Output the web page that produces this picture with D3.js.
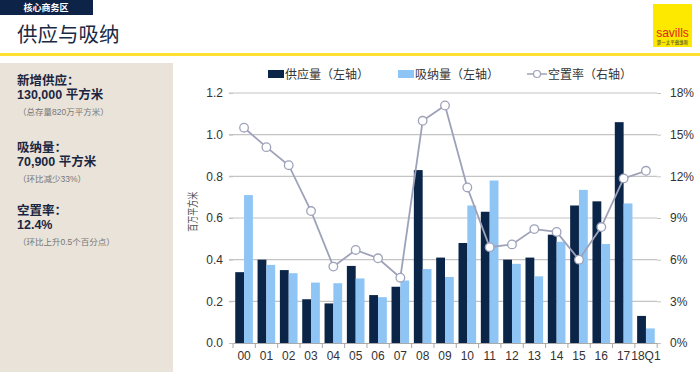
<!DOCTYPE html>
<html>
  <head>
    <meta charset="UTF-8">
    <style>
      body {
        margin: 0;
        font-family: Arial, "Liberation Sans", "Noto Sans CJK SC", sans-serif;
        background: #fff;
      }
      svg text {
        font-family: Arial, "Liberation Sans", "Noto Sans CJK SC", sans-serif;
      }
      .tick text {
        font-size: 12px;
        fill: #333;
      }
    </style>
    <script src="https://d3js.org/d3.v7.min.js"></script>
  </head>

  <body>
    <svg id="chart" width="700" height="375"></svg>

    <script type="text/javascript">
      // chart data
      const years = ['00', '01', '02', '03', '04', '05', '06', '07', '08', '09',
                     '10', '11', '12', '13', '14', '15', '16', '17', '18Q1']
      const supply = [0.34, 0.40, 0.35, 0.21, 0.19, 0.37, 0.23, 0.27, 0.83, 0.41,
                      0.48, 0.63, 0.40, 0.41, 0.52, 0.66, 0.68, 1.06, 0.13]
      const absorption = [0.71, 0.375, 0.335, 0.29, 0.287, 0.31, 0.22, 0.30, 0.355, 0.317,
                          0.66, 0.78, 0.38, 0.32, 0.486, 0.735, 0.475, 0.67, 0.07]
      const vacancy = [15.5, 14.1, 12.8, 9.5, 5.5, 6.7, 6.1, 4.7, 16.0, 17.1,
                       11.2, 6.9, 7.1, 8.2, 8.0, 6.0, 8.35, 11.85, 12.4]
      const leftTicks = [0, 0.2, 0.4, 0.6, 0.8, 1.0, 1.2]
      const rightTicks = [0, 3, 6, 9, 12, 15, 18]
      const legendItems = ['供应量（左轴）', '吸纳量（左轴）', '空置率（右轴）']
      const summary = [
        {label: '新增供应：', value: '130,000 平方米', note: '（总存量820万平方米）'},
        {label: '吸纳量：', value: '70,900 平方米', note: '（环比减少33%）'},
        {label: '空置率：', value: '12.4%', note: '（环比上升0.5个百分点）'}
      ]

      const navy = '#0b2548'
      const lightBlue = '#8fc5f5'
      const lineColor = '#9ea2b9'
      const gridColor = '#c4c4c4'

      const svg = d3.select('#chart')

      function drawHeader() {
        svg.append('rect')
          .attr('x', 0).attr('y', 0)
          .attr('width', 93).attr('height', 15)
          .attr('fill', '#0d2347')
        svg.append('text')
          .attr('x', 46).attr('y', 11)
          .attr('text-anchor', 'middle')
          .attr('fill', '#fff')
          .attr('font-size', 9)
          .attr('font-weight', 'bold')
          .text('核心商务区')

        svg.append('text')
          .attr('x', 17).attr('y', 42)
          .attr('fill', '#1b2a44')
          .attr('font-size', 20.5)
          .text('供应与吸纳')

        svg.append('rect')
          .attr('x', 0).attr('y', 53)
          .attr('width', 700).attr('height', 3)
          .attr('fill', '#fde132')

        // savills logo
        let logo = svg.append('g').attr('transform', 'translate(653,4)')
        logo.append('rect')
          .attr('width', 39).attr('height', 43)
          .attr('fill', '#fde800')
        logo.append('text')
          .attr('x', 19.5).attr('y', 33)
          .attr('text-anchor', 'middle')
          .attr('fill', '#e2231a')
          .attr('font-size', 12)
          .text('savills')
        logo.append('text')
          .attr('x', 19.5).attr('y', 40)
          .attr('text-anchor', 'middle')
          .attr('fill', '#333')
          .attr('font-size', 4.5)
          .text('第一太平戴维斯')
      }

      function drawSummary() {
        svg.append('rect')
          .attr('x', 0).attr('y', 63)
          .attr('width', 173).attr('height', 309)
          .attr('fill', '#e9e3da')

        let g = svg.append('g')
        let rows = [85, 152, 215]
        summary.forEach((d, i) => {
          let y0 = rows[i]
          g.append('text')
            .attr('x', 17).attr('y', y0)
            .attr('fill', '#1a2640')
            .attr('font-size', 12.5)
            .attr('font-weight', 'bold')
            .text(d.label)
          g.append('text')
            .attr('x', 17).attr('y', y0 + 14)
            .attr('fill', '#1a2640')
            .attr('font-size', 12.5)
            .attr('font-weight', 'bold')
            .text(d.value)
          g.append('text')
            .attr('x', 18).attr('y', y0 + 30)
            .attr('fill', '#777')
            .attr('font-size', 8.5)
            .text(d.note)
        })
      }

      function drawChart() {
        const margin = {left: 233, right: 43, top: 93, bottom: 32}
        const width = 700 - margin.left - margin.right
        const height = 375 - margin.top - margin.bottom

        const x = d3.scaleBand()
          .domain(years)
          .range([0, width])
          .paddingInner(0.21)
          .paddingOuter(0.1)
        const xSub = d3.scaleBand()
          .domain(['supply', 'absorption'])
          .range([0, x.bandwidth()])
        const yLeft = d3.scaleLinear().domain([0, 1.2]).range([height, 0])
        const yRight = d3.scaleLinear().domain([0, 18]).range([height, 0])

        const g = svg.append('g')
          .attr('transform', `translate(${margin.left},${margin.top})`)

        // gridlines
        g.append('g')
          .selectAll('line')
          .data(leftTicks.slice(1))
          .join('line')
            .attr('x1', -4).attr('x2', width)
            .attr('y1', d => yLeft(d)).attr('y2', d => yLeft(d))
            .attr('stroke', gridColor)
            .attr('stroke-width', 1.2)

        // left axis
        let leftAxis = g.append('g')
          .call(d3.axisLeft(yLeft).tickValues(leftTicks).tickFormat(d3.format('.1f')).tickSize(4).tickPadding(6))
        leftAxis.select('.domain').remove()
        leftAxis.selectAll('.tick line').attr('stroke', gridColor)

        // right axis
        let rightAxis = g.append('g')
          .attr('transform', `translate(${width},0)`)
          .call(d3.axisRight(yRight).tickValues(rightTicks).tickFormat(d => d + '%').tickSize(4).tickPadding(9))
        rightAxis.select('.domain').remove()
        rightAxis.selectAll('.tick line').attr('stroke', gridColor)

        // axis title
        g.append('text')
          .attr('transform', `translate(-36,${yLeft(0.63)}) rotate(-90)`)
          .attr('text-anchor', 'middle')
          .attr('fill', '#555')
          .attr('font-size', 11.5)
          .attr('textLength', 40)
          .attr('lengthAdjust', 'spacingAndGlyphs')
          .text('百万平方米')

        // bars
        let groups = g.append('g')
          .selectAll('g')
          .data(years)
          .join('g')
            .attr('transform', d => `translate(${x(d)},0)`)

        groups.append('rect')
          .attr('x', xSub('supply'))
          .attr('width', xSub.bandwidth())
          .attr('y', (d, i) => yLeft(supply[i]))
          .attr('height', (d, i) => height - yLeft(supply[i]))
          .attr('fill', navy)

        groups.append('rect')
          .attr('x', xSub('absorption'))
          .attr('width', xSub.bandwidth())
          .attr('y', (d, i) => yLeft(absorption[i]))
          .attr('height', (d, i) => height - yLeft(absorption[i]))
          .attr('fill', lightBlue)

        // x axis
        let step = x.step()
        let xAxis = g.append('g')
          .attr('transform', `translate(0,${height})`)
          .call(d3.axisBottom(x).tickSize(0).tickPadding(8))
        xAxis.select('.domain').attr('stroke', '#aaa')
        xAxis.selectAll('.tick text').attr('font-size', 12)
        xAxis.append('g')
          .selectAll('line')
          .data(d3.range(years.length + 1))
          .join('line')
            .attr('x1', i => i * step).attr('x2', i => i * step)
            .attr('y1', 0).attr('y2', 5)
            .attr('stroke', '#aaa')

        // vacancy line
        let cx = d => x(d) + x.bandwidth() / 2
        let line = d3.line()
          .x((d, i) => cx(years[i]))
          .y(d => yRight(d))

        g.append('path')
          .datum(vacancy)
          .attr('d', line)
          .attr('fill', 'none')
          .attr('stroke', lineColor)
          .attr('stroke-width', 1.8)

        g.append('g')
          .selectAll('circle')
          .data(vacancy)
          .join('circle')
            .attr('cx', (d, i) => cx(years[i]))
            .attr('cy', d => yRight(d))
            .attr('r', 4.3)
            .attr('fill', '#fff')
            .attr('stroke', lineColor)
            .attr('stroke-width', 1.3)
      }

      function drawLegend() {
        let legend = svg.append('g').attr('transform', 'translate(0,74)')
        let xs = [268, 398, 527]

        legend.append('rect')
          .attr('x', xs[0]).attr('y', -4).attr('width', 16).attr('height', 8)
          .attr('fill', navy)
        legend.append('rect')
          .attr('x', xs[1]).attr('y', -4).attr('width', 16).attr('height', 8)
          .attr('fill', lightBlue)
        legend.append('line')
          .attr('x1', xs[2]).attr('x2', xs[2] + 20)
          .attr('y1', 0).attr('y2', 0)
          .attr('stroke', lineColor)
          .attr('stroke-width', 1.5)
        legend.append('circle')
          .attr('cx', xs[2] + 10).attr('cy', 0).attr('r', 3.5)
          .attr('fill', '#fff')
          .attr('stroke', lineColor)
          .attr('stroke-width', 1.2)

        legend.selectAll('text.item')
          .data(legendItems)
          .join('text')
            .attr('class', 'item')
            .attr('x', (d, i) => xs[i] + (i == 2 ? 21 : 17))
            .attr('y', 4.5)
            .attr('fill', '#333')
            .attr('font-size', 12)
            .text(d => d)
      }

      drawHeader()
      drawSummary()
      drawChart()
      drawLegend()
    </script>
  </body>
</html>
